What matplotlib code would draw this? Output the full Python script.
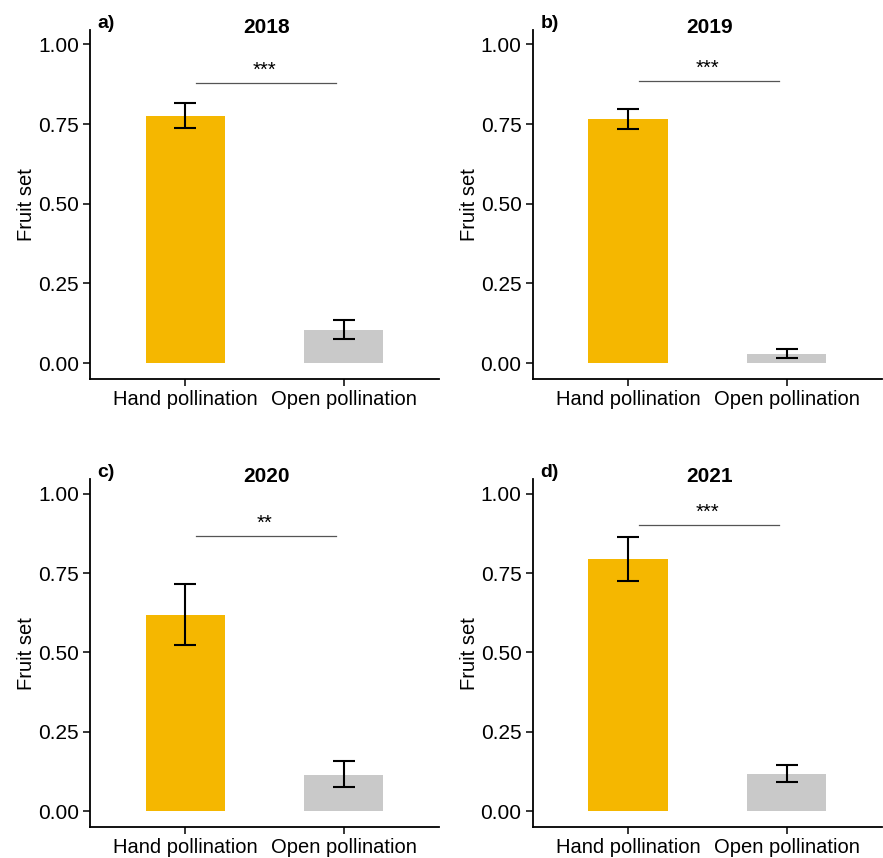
import matplotlib.pyplot as plt

plt.rcParams['font.family'] = ['Liberation Sans', 'DejaVu Sans']

# fruit set per year (mean and error bar limits)
years = ["2018", "2019", "2020", "2021"]
panel_tags = ["a)", "b)", "c)", "d)"]
treatments = ["Hand pollination", "Open pollination"]

hand_mean = [0.776, 0.765, 0.619, 0.794]
hand_lo = [0.738, 0.733, 0.524, 0.725]
hand_hi = [0.815, 0.797, 0.714, 0.862]

open_mean = [0.105, 0.029, 0.116, 0.118]
open_lo = [0.077, 0.015, 0.076, 0.094]
open_hi = [0.135, 0.044, 0.158, 0.147]

signif = ["***", "***", "**", "***"]
signif_y = [0.88, 0.885, 0.865, 0.90]

bar_colors = ["#F5B700", "#C9C9C9"]

fig = plt.figure(figsize=(8.83, 8.58), dpi=100)

# axes boxes in figure fractions
boxes = [
    [0.1019, 0.5583, 0.3953, 0.4067],
    [0.6033, 0.5583, 0.3953, 0.4067],
    [0.1019, 0.0358, 0.3953, 0.4056],
    [0.6033, 0.0358, 0.3953, 0.4056],
]

for i, yr in enumerate(years):
    ax = fig.add_axes(boxes[i])
    xs = [1, 2]
    means = [hand_mean[i], open_mean[i]]
    lows = [hand_lo[i], open_lo[i]]
    highs = [hand_hi[i], open_hi[i]]
    ax.bar(xs, means, width=0.5, color=bar_colors, zorder=1)
    yerr = [[m - l for m, l in zip(means, lows)],
            [h - m for m, h in zip(means, highs)]]
    ax.errorbar(xs, means, yerr=yerr, fmt='none', ecolor='black',
                elinewidth=1.5, capsize=8.2, capthick=1.5, zorder=2)

    # significance bracket
    ax.plot([1.07, 1.95], [signif_y[i], signif_y[i]], color='#555555', lw=0.9)
    ax.text(1.5, signif_y[i] + 0.01, signif[i], ha='center', va='bottom',
            fontsize=14.5)

    ax.set_xlim(0.4, 2.6)
    ax.set_ylim(-0.05, 1.045)
    ax.set_xticks(xs)
    ax.set_xticklabels(treatments, fontsize=14.5)
    ax.set_yticks([0, 0.25, 0.5, 0.75, 1.0])
    ax.set_yticklabels(["0.00", "0.25", "0.50", "0.75", "1.00"], fontsize=15)
    ax.set_ylabel("Fruit set", fontsize=14.5, labelpad=1)
    ax.tick_params(axis='both', length=5, width=1.1, colors='black', pad=3)
    for side in ['top', 'right']:
        ax.spines[side].set_visible(False)
    for side in ['left', 'bottom']:
        ax.spines[side].set_linewidth(1.3)

    ax.text(0.506, 1.008, yr, transform=ax.transAxes, fontsize=15,
            fontweight='bold', ha='center', va='center')
    ax.text(0.022, 1.02, panel_tags[i], transform=ax.transAxes, fontsize=14,
            fontweight='bold', ha='left', va='center')

fig.savefig("out.png", dpi=100)
